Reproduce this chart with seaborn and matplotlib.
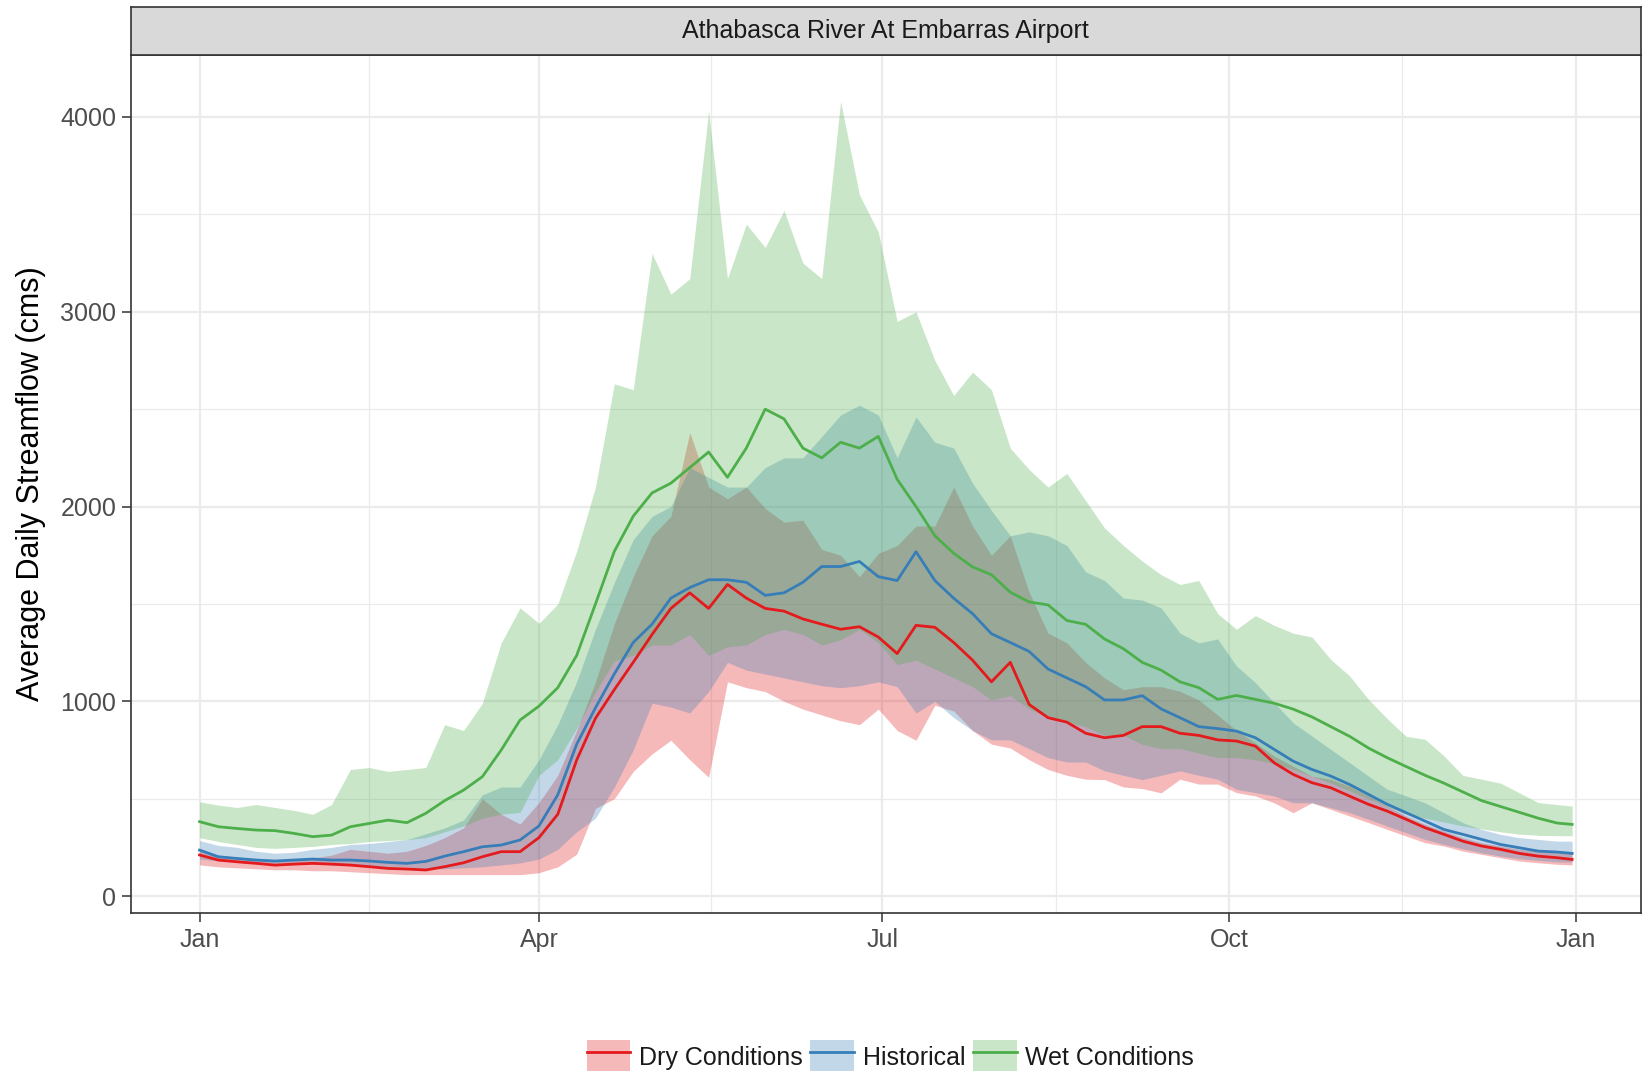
import pandas as pd
import matplotlib
matplotlib.use('Agg')
import matplotlib.pyplot as plt
from matplotlib.patches import Patch
from matplotlib.lines import Line2D
import seaborn as sns

# day of year (2001) for each reading, every 5 days
days = list(range(0, 361, 5)) + [364]

dry_mean = [211, 185, 176, 168, 159, 164, 168, 164, 159, 151, 142, 139, 134, 151, 171, 202, 228, 228, 300, 420,
            698, 913, 1060, 1200, 1343, 1477, 1557, 1477, 1600, 1530, 1477, 1463, 1423, 1396, 1370, 1383, 1330, 1245, 1390, 1380,
            1302, 1211, 1100, 1200, 984, 916, 893, 836, 813, 825, 870, 870, 836, 825, 802, 796, 770, 684, 625, 582,
            556, 513, 471, 436, 394, 351, 317, 282, 257, 240, 219, 205, 197, 188]
dry_low = [160, 150, 145, 140, 135, 135, 130, 130, 125, 120, 115, 110, 110, 110, 110, 110, 110, 110, 120, 150,
           215, 450, 500, 640, 730, 800, 700, 610, 1100, 1070, 1050, 1000, 960, 930, 900, 880, 960, 850, 800, 980,
           950, 850, 780, 760, 700, 650, 620, 600, 598, 560, 552, 530, 600, 575, 575, 531, 514, 479, 428, 479,
           445, 411, 377, 342, 308, 274, 257, 231, 214, 197, 180, 171, 163, 160]
dry_high = [230, 205, 198, 192, 185, 190, 195, 210, 240, 230, 220, 230, 260, 300, 350, 500, 420, 370, 480, 620,
            850, 1100, 1400, 1640, 1850, 1950, 2380, 2100, 2040, 2100, 1990, 1920, 1930, 1780, 1750, 1640, 1760, 1800, 1900, 1900,
            2100, 1900, 1750, 1850, 1560, 1350, 1300, 1200, 1120, 1060, 1075, 1075, 1052, 1007, 930, 850, 787, 719, 667, 616,
            599, 565, 514, 462, 411, 368, 334, 300, 274, 257, 240, 231, 222, 219]

hist_mean = [236, 202, 193, 185, 180, 185, 190, 185, 185, 180, 173, 168, 178, 205, 228, 253, 262, 288, 360, 520,
             779, 967, 1141, 1302, 1396, 1530, 1584, 1624, 1624, 1611, 1544, 1557, 1611, 1692, 1692, 1718, 1640, 1620, 1768, 1620,
             1529, 1450, 1347, 1302, 1256, 1166, 1120, 1075, 1007, 1007, 1029, 961, 916, 870, 860, 847, 813, 753, 693, 650,
             616, 573, 522, 471, 428, 385, 342, 317, 291, 265, 248, 231, 226, 219]
hist_low = [190, 180, 175, 170, 165, 165, 165, 160, 160, 155, 150, 150, 140, 140, 145, 150, 160, 170, 190, 240,
            330, 400, 560, 750, 990, 970, 940, 1050, 1200, 1160, 1140, 1120, 1100, 1080, 1070, 1080, 1100, 1075, 940, 1000,
            916, 850, 802, 802, 757, 711, 688, 688, 643, 620, 598, 620, 643, 620, 600, 548, 531, 514, 479, 479,
            454, 428, 394, 359, 325, 291, 265, 243, 222, 205, 192, 183, 175, 175]
hist_high = [285, 260, 250, 230, 220, 225, 240, 250, 265, 270, 280, 290, 320, 350, 390, 520, 560, 560, 700, 880,
             1100, 1370, 1610, 1830, 1950, 2000, 2200, 2150, 2100, 2100, 2200, 2250, 2250, 2360, 2470, 2520, 2470, 2250, 2460, 2330,
             2300, 2120, 1980, 1850, 1870, 1850, 1800, 1665, 1620, 1530, 1520, 1480, 1350, 1300, 1320, 1181, 1096, 993, 890, 822,
             753, 685, 616, 548, 514, 479, 428, 377, 342, 317, 300, 291, 282, 282]

wet_mean = [382, 356, 347, 339, 336, 322, 305, 313, 356, 373, 390, 377, 425, 490, 544, 613, 750, 904, 975, 1070,
            1235, 1500, 1770, 1950, 2070, 2120, 2200, 2280, 2150, 2300, 2500, 2450, 2300, 2250, 2330, 2300, 2360, 2140, 2000, 1850,
            1760, 1690, 1650, 1560, 1510, 1495, 1415, 1395, 1320, 1270, 1200, 1160, 1100, 1070, 1010, 1030, 1010, 990, 960, 920,
            870, 820, 760, 710, 665, 620, 580, 535, 490, 460, 430, 400, 375, 368]
wet_low = [300, 280, 265, 250, 245, 250, 255, 265, 270, 280, 285, 290, 300, 330, 360, 400, 420, 430, 620, 700,
           860, 1047, 1208, 1235, 1289, 1289, 1343, 1235, 1280, 1289, 1343, 1369, 1343, 1289, 1316, 1369, 1300, 1188, 1211, 1166,
           1120, 1075, 1007, 1029, 961, 916, 893, 870, 825, 825, 779, 757, 757, 734, 711, 711, 700, 680, 650, 616,
           580, 540, 500, 460, 420, 400, 380, 360, 345, 330, 318, 312, 310, 310]
wet_high = [484, 467, 455, 470, 455, 440, 420, 470, 650, 660, 640, 650, 660, 880, 850, 990, 1300, 1480, 1400, 1500,
            1770, 2100, 2630, 2600, 3300, 3090, 3170, 4030, 3170, 3450, 3330, 3520, 3250, 3170, 4080, 3600, 3410, 2950, 3000, 2750,
            2570, 2690, 2600, 2300, 2190, 2100, 2170, 2030, 1890, 1800, 1720, 1650, 1600, 1620, 1450, 1370, 1440, 1390, 1350, 1330,
            1215, 1130, 1010, 910, 820, 805, 720, 620, 600, 580, 530, 480, 470, 462]

scenarios = ['Dry Conditions', 'Historical', 'Wet Conditions']
colors = ['#E41A1C', '#377EB8', '#4DAF4A']

base = pd.Timestamp('2001-01-01')
dates = base + pd.to_timedelta(days, unit='D')

bands = {
    'Dry Conditions': (dry_low, dry_high),
    'Historical': (hist_low, hist_high),
    'Wet Conditions': (wet_low, wet_high),
}
means = {
    'Dry Conditions': dry_mean,
    'Historical': hist_mean,
    'Wet Conditions': wet_mean,
}

long_df = pd.concat([
    pd.DataFrame({'date': dates, 'flow': means[s], 'scenario': s}) for s in scenarios
], ignore_index=True)

plt.rcParams['font.family'] = ['Liberation Sans', 'DejaVu Sans']

fig = plt.figure(figsize=(16.49, 10.71), dpi=100)
ax = fig.add_axes([0.0794, 0.1475, 0.9156, 0.8011])
ax.set_facecolor('white')
ax.set_axisbelow(True)

# ribbons
for s, c in zip(scenarios, colors):
    lo, hi = bands[s]
    ax.fill_between(dates, lo, hi, color=c, alpha=0.3, linewidth=0)

# mean lines
sns.lineplot(data=long_df, x='date', y='flow', hue='scenario', hue_order=scenarios,
             palette=colors, estimator=None, errorbar=None, linewidth=2.0,
             legend=False, ax=ax)

ax.set_xlim(base - pd.Timedelta(days=18.2), base + pd.Timedelta(days=382.2))
ax.set_ylim(-87, 4318)

major_dates = [pd.Timestamp(d) for d in ['2001-01-01', '2001-04-01', '2001-07-01', '2001-10-01', '2002-01-01']]
minor_dates = [pd.Timestamp(d) for d in ['2001-02-15', '2001-05-16 12:00', '2001-08-16', '2001-11-16']]
ax.set_xticks(major_dates)
ax.set_xticklabels(['Jan', 'Apr', 'Jul', 'Oct', 'Jan'])
ax.set_xticks(minor_dates, minor=True)
ax.set_yticks([0, 1000, 2000, 3000, 4000])
ax.set_yticks([500, 1500, 2500, 3500], minor=True)

ax.grid(which='major', color='#EBEBEB', linewidth=1.6)
ax.grid(which='minor', color='#EBEBEB', linewidth=0.9)

ax.tick_params(which='major', length=6.5, width=1.1, color='#333333',
               labelcolor='#4D4D4D', labelsize=18, pad=4)
ax.tick_params(which='minor', length=0)

for sp in ax.spines.values():
    sp.set_color('#333333')
    sp.set_linewidth(1.2)

ax.set_xlabel('')
ax.set_ylabel('Average Daily Streamflow (cms)', fontsize=22, color='black', labelpad=10)

# facet strip
strip = fig.add_axes([0.0794, 0.9486, 0.9156, 0.0445])
strip.set_facecolor('#D9D9D9')
strip.set_xticks([])
strip.set_yticks([])
for sp in strip.spines.values():
    sp.set_color('#333333')
    sp.set_linewidth(1.2)
strip.text(0.5, 0.5, 'Athabasca River At Embarras Airport', ha='center', va='center',
           fontsize=18, color='#1A1A1A', transform=strip.transAxes)

# legend: filled key with line through it
handles = [(Patch(facecolor=c, alpha=0.3, edgecolor='none'), Line2D([], [], color=c, linewidth=2.0))
           for c in colors]
fig.legend(handles, scenarios, loc='center', bbox_to_anchor=(0.54, 0.013), ncol=3,
           frameon=False, fontsize=18, handlelength=1.75, handleheight=1.75,
           handletextpad=0.35, columnspacing=0.3, labelcolor='#1A1A1A')

fig.savefig('out.png', dpi=100)
